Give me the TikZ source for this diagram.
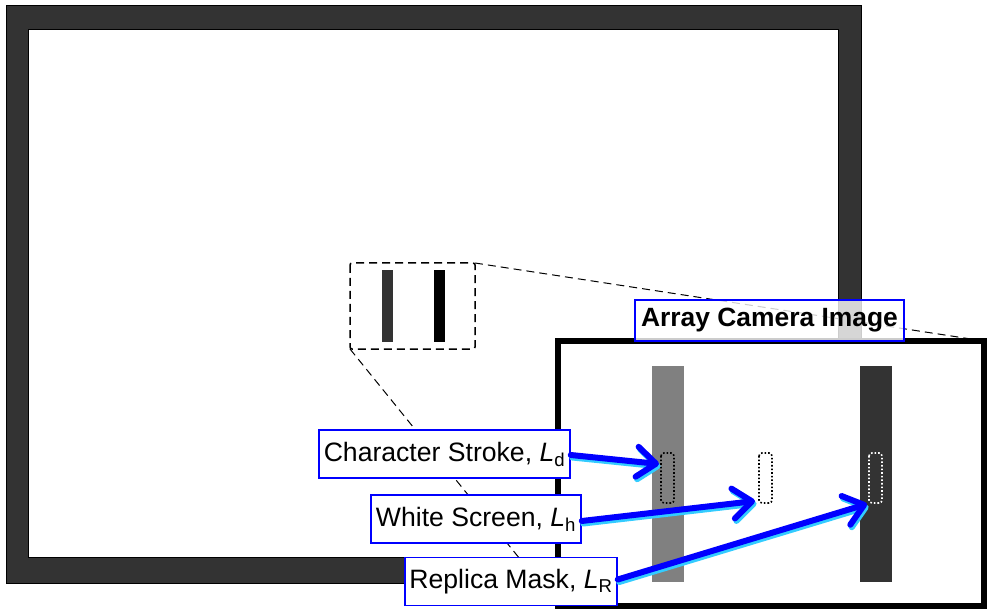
\documentclass[tikz,border=0pt]{standalone}
\usepackage{fontspec}
\setmainfont{Liberation Sans}
\usetikzlibrary{arrows.meta}
\definecolor{framegray}{HTML}{333333}
\definecolor{midgray}{HTML}{808080}
\definecolor{shadowcyan}{HTML}{33CCFF}
\begin{document}
\begin{tikzpicture}[x=1pt,y=-1pt,
  lbl/.style={draw=blue, line width=1.5pt, fill=white, inner sep=0pt, font=\fontsize{26.6}{31}\selectfont, text=black, minimum height=48pt},
  titlebox/.style={draw=blue, line width=1.5pt, fill=white, fill opacity=0.8, text opacity=1, inner sep=0pt, font=\fontsize{26.4}{31}\selectfont\bfseries, text=black, minimum height=41pt, minimum width=269pt},
  zoomline/.style={dash pattern=on 8pt off 5pt, line width=1pt},
  probe/.style={dotted, line width=1.6pt, rounded corners=3pt},
  arrowmain/.style={blue, line width=6pt, line cap=round, -{Straight Barb[length=19pt,width=30pt,round]}},
  arrowshadow/.style={shadowcyan, line width=6pt, line cap=round, -{Straight Barb[length=19pt,width=30pt,round]}}
]
\useasboundingbox (0,0) rectangle (987,609);

% outer frame
\fill[framegray, even odd rule] (6,6) rectangle (861,583) (28,30) rectangle (838,557);
\draw[black, line width=1pt] (6,6) rectangle (861,583);
\draw[black, line width=1pt] (28,30) rectangle (838,557);

% small region with bars
\fill[framegray] (382,270) rectangle (393,342);
\fill[black] (434,270) rectangle (445,342);
\draw[dash pattern=on 8pt off 5pt, line width=1.5pt, rounded corners=2pt] (350,263) rectangle (475,349);

% zoom lines
\coordinate (zTR) at (475,263);
\coordinate (zBL) at (350,349);
\coordinate (cTR) at (984,341);
\coordinate (cBL) at (558,606);
\draw[zoomline] (zTR) -- (cTR);
\draw[zoomline] (zBL) -- (cBL);

% camera image
\draw[line width=6pt, fill=white] (558,341) rectangle (984,606);
\fill[midgray] (652,366) rectangle (684,582);
\fill[framegray] (860,366) rectangle (892,582);

\draw[probe, black] (661,453) rectangle (674,503);
\draw[probe, black] (759,453) rectangle (772,503);
\draw[probe, white] (869,453) rectangle (882,503);

\node[titlebox] (title) at (769.5,320.5) {Array Camera Image};

% labels
\node[lbl, minimum width=251pt] (lab1) at (444.5,454) {Character Stroke, \textit{L}\textsubscript{d}};
\node[lbl, minimum width=210pt] (lab2) at (476,519) {White Screen, \textit{L}\textsubscript{h}};
\node[lbl, minimum width=212pt] (lab3) at (511,581.5) {Replica Mask, \textit{L}\textsubscript{R}};

\coordinate (t1) at (659,464);
\coordinate (t2) at (755,501);
\coordinate (t3) at (867,504);

\draw[arrowshadow, transform canvas={shift={(1.5pt,-2.5pt)}}] ([yshift=-1pt]lab1.east) -- (t1);
\draw[arrowshadow, transform canvas={shift={(1.5pt,-2.5pt)}}] ([yshift=-2pt]lab2.east) -- (t2);
\draw[arrowshadow, transform canvas={shift={(1.5pt,-2.5pt)}}] ([yshift=2pt]lab3.east) -- (t3);
\draw[arrowmain] ([yshift=-1pt]lab1.east) -- (t1);
\draw[arrowmain] ([yshift=-2pt]lab2.east) -- (t2);
\draw[arrowmain] ([yshift=2pt]lab3.east) -- (t3);
\end{tikzpicture}
\end{document}
